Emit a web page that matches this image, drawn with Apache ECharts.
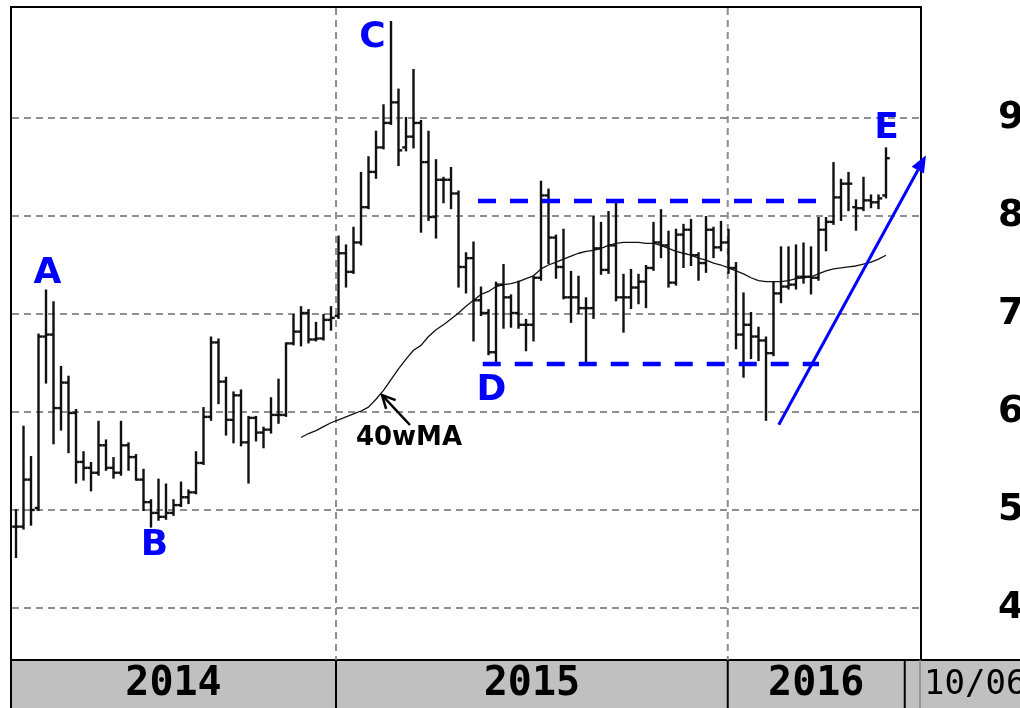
<!DOCTYPE html>
<html><head><meta charset="utf-8">
<script src="https://cdn.jsdelivr.net/npm/echarts@6/dist/echarts.min.js"></script>
<style>html,body{margin:0;padding:0;background:#fff}#c{width:1020px;height:708px}</style>
</head><body><div id="c"></div>
<script>
// ---- weekly OHLC bars (week index 0 = first bar, ~Mar 2014) ----
const opens = [4.83,4.83,5.31,5.02,6.77,6.79,6.04,6.30,5.99,5.49,5.43,5.38,5.66,5.43,5.38,5.66,5.54,5.31,5.08,4.97,
4.93,4.97,5.05,5.13,5.18,5.48,5.95,6.71,6.31,5.92,6.17,5.69,5.94,5.79,5.82,5.97,5.97,6.70,6.82,7.01,
6.74,6.75,6.94,6.98,7.62,7.43,7.73,8.09,8.45,8.70,8.95,9.16,8.70,8.81,8.95,8.55,7.99,8.37,8.37,8.23,
7.48,7.57,7.14,7.01,6.61,7.30,7.17,7.01,6.89,6.89,7.37,8.21,7.78,7.48,7.17,7.17,7.06,7.06,7.67,7.45,
7.70,7.17,7.17,7.27,7.33,7.47,7.73,7.70,7.32,7.81,7.86,7.60,7.52,7.86,7.68,7.73,7.47,6.79,6.89,6.77,
6.73,6.60,7.21,7.28,7.30,7.38,7.38,7.37,7.86,7.94,8.19,8.33,8.09,8.08,8.16,8.14,8.21];
const highs = [5.00,5.85,5.54,6.79,7.24,7.12,6.46,6.36,6.02,5.59,5.48,5.90,5.71,5.53,5.90,5.68,5.56,5.41,5.10,5.31,
5.26,5.10,5.28,5.20,5.59,6.04,6.76,6.74,6.35,6.20,6.22,5.95,5.95,5.84,6.14,6.33,6.70,6.99,7.07,7.04,
6.91,6.99,7.07,7.79,7.70,7.88,8.44,8.60,8.86,9.13,9.98,9.29,9.00,9.49,8.97,8.86,8.57,8.39,8.49,8.25,
7.62,7.73,7.27,7.04,7.32,7.50,7.19,7.33,6.94,7.38,8.35,8.27,7.80,7.86,7.43,7.38,7.16,7.99,7.93,8.04,
8.13,7.40,7.45,7.40,7.49,7.93,8.06,7.84,7.86,7.91,7.96,7.62,7.99,7.88,7.94,7.86,7.52,7.21,7.01,6.86,
6.76,7.32,7.68,7.68,7.70,7.72,7.68,7.98,7.98,8.54,8.37,8.44,8.16,8.39,8.21,8.21,8.69];
const lows = [4.52,4.81,4.85,5.00,6.30,5.68,5.82,5.59,5.28,5.31,5.20,5.36,5.41,5.33,5.36,5.41,5.31,5.00,4.83,4.90,
4.91,4.95,5.04,5.07,5.17,5.47,5.92,6.09,5.77,5.69,5.66,5.28,5.71,5.64,5.79,5.89,5.96,6.69,6.68,6.71,
6.73,6.74,6.84,6.96,7.28,7.42,7.71,8.08,8.39,8.69,8.94,8.52,8.67,8.70,7.84,7.96,7.78,8.14,8.08,7.28,
7.22,6.73,6.99,6.59,6.51,6.86,6.87,6.86,6.63,6.73,7.35,7.52,7.37,7.16,6.92,7.01,6.51,6.96,7.41,7.42,
7.14,6.82,7.06,7.11,7.07,7.45,7.58,7.28,7.30,7.48,7.50,7.35,7.43,7.58,7.65,7.42,6.65,6.36,6.55,6.53,
5.92,6.58,7.12,7.26,7.26,7.32,7.21,7.35,7.65,7.92,7.96,8.06,7.86,8.06,8.09,8.08,8.19];
const closes = [4.83,5.31,5.00,6.77,6.79,6.04,6.30,5.99,5.49,5.43,5.38,5.66,5.43,5.38,5.66,5.54,5.31,5.08,4.97,4.93,
4.97,5.05,5.13,5.18,5.48,5.95,6.71,6.31,5.92,6.17,5.69,5.94,5.79,5.82,5.97,5.97,6.70,6.82,7.01,6.74,
6.75,6.94,6.96,7.62,7.43,7.73,8.09,8.45,8.70,8.95,9.16,8.67,8.81,8.95,8.55,7.99,8.37,8.37,8.23,7.48,
7.57,7.14,7.01,6.61,7.30,7.17,7.01,6.89,6.89,7.37,8.21,7.78,7.48,7.17,7.17,7.06,7.06,7.67,7.45,7.70,
7.17,7.17,7.27,7.33,7.47,7.73,7.70,7.32,7.81,7.86,7.60,7.52,7.86,7.68,7.73,7.47,6.79,6.89,6.77,6.73,
6.60,7.21,7.28,7.30,7.38,7.38,7.37,7.86,7.94,8.19,8.33,8.33,8.08,8.16,8.14,8.18,8.59];
// ---- 40-week moving average, starting at week 38 ----
const ma40Start = 38;
const ma40 = [5.74,5.78,5.81,5.85,5.89,5.92,5.95,5.98,6.01,6.05,
6.13,6.22,6.33,6.44,6.54,6.63,6.68,6.77,6.84,6.89,
6.95,7.01,7.08,7.14,7.20,7.23,7.28,7.30,7.31,7.33,
7.36,7.39,7.46,7.50,7.53,7.56,7.59,7.62,7.64,7.65,
7.67,7.70,7.72,7.73,7.73,7.73,7.72,7.72,7.70,7.67,
7.64,7.62,7.60,7.57,7.55,7.52,7.50,7.47,7.44,7.41,
7.37,7.34,7.33,7.33,7.33,7.34,7.36,7.37,7.38,7.41,
7.44,7.46,7.47,7.48,7.49,7.51,7.53,7.56,7.60];
// ---- axes ----
const xMin = -0.667, xMax = 120.667;
const yMin = 3.469, yMax = 10.133;
const yTicks = [4,5,6,7,8,9];
const yearLabels = ['2014','2015','2016'];
const yearBounds = [-0.667, 42.67, 94.9, 118.5];
const lastDateLabel = '10/06';
// ---- annotations ----
const annText = ['A','B','C','D','E'];
const annX = [4.2, 18.47, 47.53, 63.4, 116.07];
const annY = [7.41, 4.64, 9.82, 6.22, 8.89];
const rangeTop = [[61.6, 8.153],[107.07, 8.153]];
const rangeBottom = [[62.23, 6.49],[107.07, 6.49]];
const trendArrow = [101.7, 5.87, 121.33, 8.62];
const maLabel = '40wMA';
const maLabelPos = [52.4, 5.73];
const maArrow = [52.53, 5.867, 48.8, 6.173];

const chart = echarts.init(document.getElementById('c'), null, {renderer:'canvas'});
const ohlcData = opens.map((o,i)=>[i, o, highs[i], lows[i], closes[i]]);
const maData = ma40.map((v,k)=>[ma40Start+k, v]);

function arrowShape(p0, p1, headLen, halfW){
  const dx=p1[0]-p0[0], dy=p1[1]-p0[1], L=Math.hypot(dx,dy);
  const ux=dx/L, uy=dy/L, px=-uy, py=ux;
  const bx=p1[0]-ux*headLen, by=p1[1]-uy*headLen;
  return {base:[bx,by], left:[bx+px*halfW, by+py*halfW], right:[bx-px*halfW, by-py*halfW]};
}

const option = {
  animation:false,
  backgroundColor:'#fff',
  grid:[
    {left:11, right:99, top:7, bottom:48, show:true, borderColor:'#000', borderWidth:2,
     backgroundColor:'transparent', containLabel:false, outerBoundsMode:'none'},
    {left:11, right:99, top:660, height:48, show:false, containLabel:false, outerBoundsMode:'none'}
  ],
  xAxis:[
    {type:'value', gridIndex:0, min:xMin, max:xMax, show:false},
    {type:'value', gridIndex:1, min:xMin, max:xMax, show:false}
  ],
  yAxis:[
    {type:'value', gridIndex:0, min:yMin, max:yMax, position:'right',
     axisLine:{show:false}, axisTick:{show:false}, splitLine:{show:false},
     axisLabel:{customValues:yTicks, margin:77, align:'left', fontSize:37, fontWeight:'bold',
                fontFamily:'DejaVu Sans', color:'#000'}},
    {type:'value', gridIndex:1, min:0, max:1, show:false}
  ],
  graphic:[
    {type:'rect', z:-10, shape:{x:11, y:660, width:1009, height:48}, style:{fill:'#c0c0c0'}},
    {type:'line', z:-9, shape:{x1:11, y1:660, x2:1020, y2:660}, style:{stroke:'#000', lineWidth:2}},
    {type:'line', z:-9, shape:{x1:11, y1:660, x2:11, y2:708}, style:{stroke:'#000', lineWidth:2}}
  ],
  series:[
    { // horizontal gridlines
      type:'custom', xAxisIndex:0, yAxisIndex:0, z:1, silent:true,
      data: yTicks.map(v=>[0, v]),
      renderItem:(params, api)=>{
        const cs = params.coordSys; const p = api.coord([0, api.value(1)]);
        return {type:'line', shape:{x1:cs.x+1, y1:p[1], x2:cs.x+cs.width, y2:p[1]},
                style:{stroke:'#8e8e8e', lineWidth:2, lineDash:[7,5]}};
      }
    },
    { // vertical year gridlines
      type:'custom', xAxisIndex:0, yAxisIndex:0, z:1, silent:true,
      data: yearBounds.slice(1,3).map(x=>[x, 7]),
      renderItem:(params, api)=>{
        const cs = params.coordSys; const p = api.coord([api.value(0), 7]);
        return {type:'line', shape:{x1:p[0], y1:cs.y+1, x2:p[0], y2:cs.y+cs.height},
                style:{stroke:'#8e8e8e', lineWidth:2, lineDash:[7,5]}};
      }
    },
    { // OHLC bars
      type:'custom', xAxisIndex:0, yAxisIndex:0, z:3, silent:true,
      dimensions:['i','open','high','low','close'],
      encode:{x:0, y:[1,2,3,4]},
      data: ohlcData,
      renderItem:(params, api)=>{
        const x = api.value(0);
        const o = api.coord([x, api.value(1)]), h = api.coord([x, api.value(2)]);
        const l = api.coord([x, api.value(3)]), c = api.coord([x, api.value(4)]);
        const hw = api.size([1,0])[0]*0.5;
        const st = {stroke:'#111', lineWidth:2.4};
        return {type:'group', children:[
          {type:'line', shape:{x1:h[0], y1:h[1]-1, x2:l[0], y2:l[1]+1}, style:st},
          {type:'line', shape:{x1:o[0]-hw, y1:o[1], x2:o[0], y2:o[1]}, style:st},
          {type:'line', shape:{x1:c[0], y1:c[1], x2:c[0]+hw, y2:c[1]}, style:st}
        ]};
      }
    },
    { // 40-week MA
      type:'line', xAxisIndex:0, yAxisIndex:0, z:4, data:maData, showSymbol:false, symbol:'none',
      lineStyle:{color:'#111', width:1.3}, silent:true
    },
    { // range lines
      type:'line', xAxisIndex:0, yAxisIndex:0, z:5, data:rangeTop, symbol:'none', silent:true,
      lineStyle:{color:'#0000ff', width:4.5, type:[18,14]}
    },
    {
      type:'line', xAxisIndex:0, yAxisIndex:0, z:5, data:rangeBottom, symbol:'none', silent:true,
      lineStyle:{color:'#0000ff', width:4.5, type:[18,14]}
    },
    { // blue trend arrow
      type:'custom', xAxisIndex:0, yAxisIndex:0, z:6, silent:true, clip:false,
      data:[trendArrow],
      renderItem:(params, api)=>{
        const p0 = api.coord([api.value(0), api.value(1)]), p1 = api.coord([api.value(2), api.value(3)]);
        const a = arrowShape(p0, p1, 17, 7);
        return {type:'group', children:[
          {type:'line', shape:{x1:p0[0], y1:p0[1], x2:a.base[0], y2:a.base[1]}, style:{stroke:'#0000ff', lineWidth:3}},
          {type:'polygon', shape:{points:[p1, a.left, a.right]}, style:{fill:'#0000ff'}}
        ]};
      }
    },
    { // MA label arrow
      type:'custom', xAxisIndex:0, yAxisIndex:0, z:6, silent:true, clip:false,
      data:[maArrow],
      renderItem:(params, api)=>{
        const p0 = api.coord([api.value(0), api.value(1)]), p1 = api.coord([api.value(2), api.value(3)]);
        const a = arrowShape(p0, p1, 13, 6.5);
        return {type:'group', children:[
          {type:'line', shape:{x1:p0[0], y1:p0[1], x2:p1[0], y2:p1[1]}, style:{stroke:'#000', lineWidth:2.5}},
          {type:'polyline', shape:{points:[a.left, p1, a.right]}, style:{stroke:'#000', lineWidth:2.5, fill:null}}
        ]};
      }
    },
    { // MA label
      type:'custom', xAxisIndex:0, yAxisIndex:0, z:6, silent:true, clip:false,
      data:[maLabelPos],
      renderItem:(params, api)=>{
        const p = api.coord([api.value(0), api.value(1)]);
        return {type:'text', style:{text:maLabel, x:p[0], y:p[1], align:'center', verticalAlign:'middle',
                font:'bold 26px "DejaVu Sans"', fill:'#000'}};
      }
    },
    { // letter annotations
      type:'custom', xAxisIndex:0, yAxisIndex:0, z:7, silent:true, clip:false,
      data: annX.map((x,k)=>[x, annY[k]]),
      renderItem:(params, api)=>{
        const p = api.coord([api.value(0), api.value(1)]);
        return {type:'text', style:{text:annText[params.dataIndex], x:p[0], y:p[1], align:'center', verticalAlign:'middle',
                font:'bold 36px "DejaVu Sans"', fill:'#0000ff'}};
      }
    },
    { // year band
      type:'custom', xAxisIndex:1, yAxisIndex:1, z:3, silent:true, clip:false,
      data: yearLabels.map((t,k)=>[yearBounds[k], yearBounds[k+1]]),
      renderItem:(params, api)=>{
        const cs = params.coordSys;
        const s = api.coord([api.value(0), 0.5]), e = api.coord([api.value(1), 0.5]);
        return {type:'group', children:[
          {type:'text', style:{text:yearLabels[params.dataIndex], x:(s[0]+e[0])/2, y:s[1]+1, align:'center', verticalAlign:'middle',
            font:'bold 40px "DejaVu Sans Mono"', fill:'#000'}},
          {type:'line', shape:{x1:e[0], y1:cs.y, x2:e[0], y2:cs.y+cs.height}, style:{stroke:'#000', lineWidth:2}}
        ]};
      }
    },
    { // last date label
      type:'custom', xAxisIndex:1, yAxisIndex:1, z:3, silent:true, clip:false,
      data:[[xMax, 0.5]],
      renderItem:(params, api)=>{
        const cs = params.coordSys;
        const p = api.coord([api.value(0), api.value(1)]);
        return {type:'group', children:[
          {type:'line', shape:{x1:p[0]-1, y1:cs.y, x2:p[0]-1, y2:cs.y+cs.height}, style:{stroke:'#888', lineWidth:1.5}},
          {type:'text', style:{text:lastDateLabel, x:p[0]+3, y:p[1]+1, align:'left', verticalAlign:'middle',
            font:'34px "DejaVu Sans Mono"', fill:'#000'}}
        ]};
      }
    }
  ]
};
chart.setOption(option);
</script></body></html>
